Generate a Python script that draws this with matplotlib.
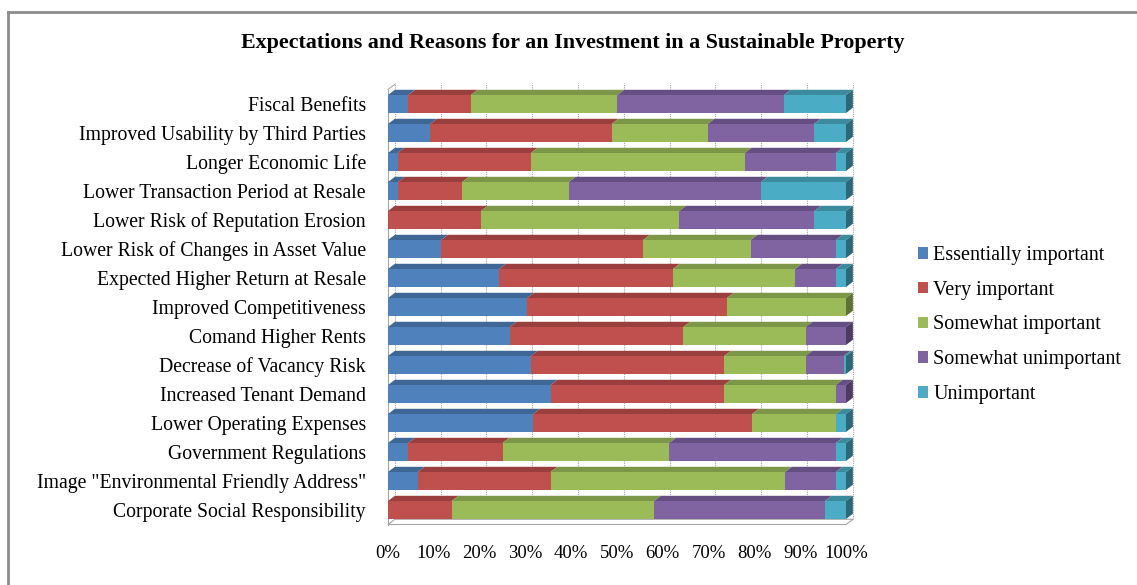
import matplotlib
matplotlib.use("Agg")
import matplotlib.pyplot as plt
from matplotlib.patches import Polygon, Rectangle
from matplotlib.lines import Line2D
import numpy as np

categories = [
    "Fiscal Benefits",
    "Improved Usability by Third Parties",
    "Longer Economic Life",
    "Lower Transaction Period at Resale",
    "Lower Risk of Reputation Erosion",
    "Lower Risk of Changes in Asset Value",
    "Expected Higher Return at Resale",
    "Improved Competitiveness",
    "Comand Higher Rents",
    "Decrease of Vacancy Risk",
    "Increased Tenant Demand",
    "Lower Operating Expenses",
    "Government Regulations",
    'Image "Environmental Friendly Address"',
    "Corporate Social Responsibility",
]

series_names = [
    "Essentially important",
    "Very important",
    "Somewhat important",
    "Somewhat unimportant",
    "Unimportant",
]

essentially_important = [4.4, 9.2, 2.1, 2.2, 0.0, 11.6, 24.3, 30.4, 26.6, 31.2, 35.5, 31.7, 4.4, 6.5, 0.0]
very_important = [13.7, 39.6, 29.1, 14.0, 20.3, 44.1, 37.9, 43.6, 37.9, 42.2, 37.9, 47.8, 20.6, 29.0, 13.9]
somewhat_important = [32.0, 21.0, 46.7, 23.3, 43.3, 23.5, 26.7, 26.0, 26.7, 17.8, 24.4, 18.3, 36.4, 51.2, 44.2]
somewhat_unimportant = [36.4, 23.2, 19.9, 41.9, 29.5, 18.6, 8.9, 0.0, 8.8, 8.3, 2.2, 0.0, 36.4, 11.1, 37.3]
unimportant = [13.5, 7.0, 2.2, 18.6, 6.9, 2.2, 2.2, 0.0, 0.0, 0.5, 0.0, 2.2, 2.2, 2.2, 4.6]

x_ticks = [0, 10, 20, 30, 40, 50, 60, 70, 80, 90, 100]
x_tick_labels = ["0%", "10%", "20%", "30%", "40%", "50%", "60%", "70%", "80%", "90%", "100%"]

face_colors = ["#4F81BD", "#C0504D", "#9BBB59", "#8064A2", "#4BACC6"]
top_colors = ["#3E6796", "#9A3F3D", "#7C9747", "#654F82", "#3B8A9E"]
side_colors = ["#2F4F74", "#76302E", "#5E7236", "#4C3C62", "#2D6878"]

SERIF = ["Liberation Serif", "DejaVu Serif"]

fig = plt.figure(figsize=(11.37, 5.85), dpi=100)
fig.patch.set_facecolor("white")

# chart frame
fig.add_artist(Line2D([8 / 1137, 8 / 1137], [0, 1 - 12 / 585], transform=fig.transFigure,
                      color="#8C8C8C", lw=2))
fig.add_artist(Line2D([8 / 1137, 1], [1 - 12 / 585, 1 - 12 / 585], transform=fig.transFigure,
                      color="#8C8C8C", lw=2))

ax = fig.add_axes([388 / 1137, 1 - 524.5 / 585, 458 / 1137, 435 / 585])
n = len(categories)
ax.set_xlim(0, 100)
ax.set_ylim(n - 0.5, -0.5)

bar_h = 0.62
dx = 1.5      # depth offset along x (percent units)
dy = 0.18     # depth offset along y (row units)

# back wall grid lines and walls
for xt in x_ticks:
    ax.plot([xt + dx, xt + dx], [n - 0.5 - dy, -0.5 - dy - 0.05], color="#A6A6A6",
            lw=0.8, ls=(0, (1, 1)), zorder=0.5, clip_on=False)
ax.add_patch(Polygon([(0, n - 0.5), (100, n - 0.5), (100 + dx, n - 0.5 - dy), (dx, n - 0.5 - dy)],
                     closed=True, facecolor="white", edgecolor="#A6A6A6", lw=0.8,
                     zorder=0.6, clip_on=False))
ax.plot([0, 0], [n - 0.5, -0.5], color="#A6A6A6", lw=0.8, zorder=0.6, clip_on=False)
ax.plot([0, dx], [-0.5, -0.5 - dy], color="#A6A6A6", lw=0.8, zorder=0.6, clip_on=False)

series = [essentially_important, very_important, somewhat_important,
          somewhat_unimportant, unimportant]
values = np.array(series)
y = np.arange(n)
left = np.zeros(n)

for s, vals in enumerate(values):
    ax.barh(y, vals, left=left, height=bar_h, color=face_colors[s], edgecolor="none",
            zorder=2, label=series_names[s])
    for i in range(n):
        w = vals[i]
        if w <= 0:
            continue
        x0 = left[i]
        top = y[i] - bar_h / 2
        ax.add_patch(Polygon([(x0, top), (x0 + w, top), (x0 + w + dx, top - dy), (x0 + dx, top - dy)],
                             closed=True, facecolor=top_colors[s], edgecolor="none",
                             zorder=1.8, clip_on=False))
    left = left + vals

# right side faces of each stacked bar
for i in range(n):
    last = max(k for k in range(len(series)) if values[k][i] > 0)
    top = y[i] - bar_h / 2
    bot = y[i] + bar_h / 2
    ax.add_patch(Polygon([(100, top), (100 + dx, top - dy), (100 + dx, bot - dy), (100, bot)],
                         closed=True, facecolor=side_colors[last], edgecolor="none",
                         zorder=1.9, clip_on=False))

for sp in ax.spines.values():
    sp.set_visible(False)
ax.set_facecolor("none")
ax.set_xticks(x_ticks)
ax.set_xticklabels(x_tick_labels, fontsize=13.5, family=SERIF)
ax.set_yticks(y)
ax.set_yticklabels(categories, fontsize=14.2, family=SERIF)
ax.tick_params(axis="both", length=0)
ax.tick_params(axis="x", pad=15)
ax.tick_params(axis="y", pad=16)

fig.text(573 / 1137, 1 - 43 / 585, "Expectations and Reasons for an Investment in a Sustainable Property",
         ha="center", va="center", fontsize=15.8, fontweight="bold", family=SERIF)

handles = [Rectangle((0, 0), 1, 1, facecolor=c, edgecolor="none") for c in face_colors]
fig.legend(handles, series_names, loc="center left", bbox_to_anchor=(900 / 1137, 1 - 325 / 585),
           frameon=False, prop={"family": SERIF, "size": 14.5}, handlelength=0.5, handleheight=0.5,
           handletextpad=0.25, labelspacing=0.78)

fig.savefig("out.png", dpi=100, facecolor="white")
